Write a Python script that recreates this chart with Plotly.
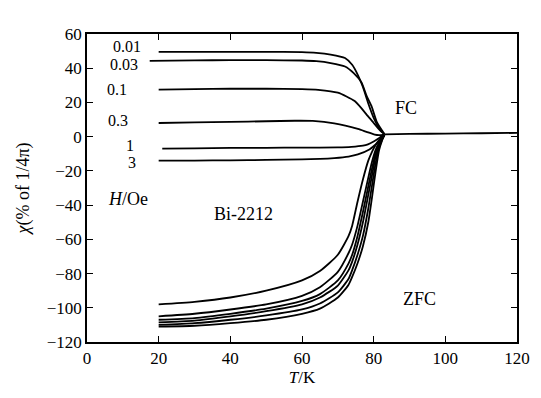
import plotly.graph_objects as go

# FC curves (below Tc), field labels in Oe
fc_labels = ["0.01", "0.03", "0.1", "0.3", "1", "3"]
fc_T = [
    [20, 30, 40, 50, 60, 64, 68, 72, 74, 75.6, 77, 78.4, 80, 81.2, 82.2, 83],
    [17.5, 30, 40, 50, 60, 64, 68, 72, 74.5, 76.6, 78, 79.4, 80.8, 82.2, 83],
    [20, 30, 40, 50, 60, 64.5, 70, 74.7, 78.4, 80, 81.2, 82.2, 83],
    [20, 30, 40, 50, 58, 63, 69, 75.6, 78, 80.3, 81.5, 83],
    [21, 30, 40, 50, 60, 70, 73.8, 77, 78.4, 80, 81.2, 82.2, 83],
    [20, 30, 40, 50, 60, 65, 69, 73, 75.6, 78.8, 80.3, 81.2, 82.2, 83],
]
fc_chi = [
    [49.5, 49.6, 49.6, 49.6, 49.4, 49.0, 48.0, 46.0, 42.0, 36.0, 29.0, 20.0, 11.0, 6.0, 3.0, 1.5],
    [44.3, 44.6, 44.7, 44.7, 44.5, 44.1, 43.0, 41.0, 37.0, 31.7, 24.0, 17.8, 9.0, 4.0, 1.5],
    [27.5, 27.8, 28, 28, 27.8, 27.4, 25.7, 20.8, 12, 8, 5, 2.8, 1.5],
    [8.0, 8.3, 8.6, 9.0, 9.3, 9.2, 7.8, 4.5, 2.8, 1.2, 0.9, 1.2],
    [-7.0, -6.8, -6.6, -6.5, -6.4, -6.3, -6.0, -5.3, -4.5, -2.8, -1.2, 0.2, 1.2],
    [-14.0, -14.0, -13.8, -13.6, -13.3, -13.0, -12.5, -11.6, -10.4, -7.5, -5.0, -3.3, -1.0, 1.0],
]

# ZFC curves
zfc_T = [20, 30, 40, 50, 60, 65, 70, 73, 74, 75.5, 77, 78.5, 79.5, 80.5, 81.5, 82.3, 83]
zfc_chi = [
    [-98, -96.5, -94, -90, -84, -78.5, -69, -58, -52, -38, -25, -14, -9, -5, -2, -0.3, 1],
    [-105, -103.5, -101, -98, -93, -88, -79, -68, -63, -52, -38, -24, -15, -8, -3.5, -1, 1],
    [-107, -106, -103.5, -100.5, -96, -92, -84, -74, -69, -58, -44, -29, -19, -10, -4.5, -1.3, 1],
    [-108.5, -107.5, -105, -102, -98, -94, -87, -78, -73, -63, -50, -34, -23, -12, -5.5, -1.6, 1],
    [-110, -109, -107, -104.5, -101, -97.5, -91, -83, -78, -69, -58, -42, -29, -16, -6.5, -2, 1],
    [-111, -110.5, -109, -107, -103.5, -100.5, -94, -86.5, -82, -74, -64, -50, -36, -21, -8, -2.5, 1],
]

# Normal state above Tc (all curves merge)
above_T = [83, 90, 100, 110, 120]
above_chi = [1.3, 1.6, 1.8, 2.0, 2.2]

x_ticks = [0, 20, 40, 60, 80, 100, 120]
y_ticks = [60, 40, 20, 0, -20, -40, -60, -80, -100, -120]

FONT = "Liberation Serif"
line = dict(color="black", width=1.8, shape="spline", smoothing=0.6)

fig = go.Figure()
for T, c in zip(fc_T, fc_chi):
    fig.add_trace(go.Scatter(x=T, y=c, mode="lines", line=line, showlegend=False))
for c in zfc_chi:
    fig.add_trace(go.Scatter(x=zfc_T, y=c, mode="lines", line=line, showlegend=False))
fig.add_trace(go.Scatter(x=above_T, y=above_chi, mode="lines", line=line, showlegend=False))

# field labels placed left of each FC curve
label_pos = [(11.2, 52.5), (10.4, 42), (8.4, 27.6), (8.7, 9.4), (12, -5.3), (12.6, -15.3)]
for txt, (lx, ly) in zip(fc_labels, label_pos):
    fig.add_annotation(x=lx, y=ly, text=txt, showarrow=False,
                       font=dict(family=FONT, size=16, color="black"))

annots = [
    (11.5, -36.5, "<i>H</i>/Oe"),
    (43.7, -45, "Bi-2212"),
    (88.9, 16.5, "FC"),
    (92.8, -94.7, "ZFC"),
]
for ax_, ay_, t in annots:
    fig.add_annotation(x=ax_, y=ay_, text=t, showarrow=False,
                       font=dict(family=FONT, size=18, color="black"))

axis_common = dict(
    showline=True, linecolor="black", linewidth=1.5, mirror="ticks",
    ticks="inside", ticklen=6, tickwidth=1.3, tickcolor="black",
    showgrid=False, zeroline=False,
    tickfont=dict(family=FONT, size=17, color="black"),
)

fig.update_xaxes(range=[0, 120], tickvals=x_ticks, ticktext=[str(v) for v in x_ticks],
                 title=dict(text="<i>T</i>/K", font=dict(family=FONT, size=17, color="black"),
                            standoff=2),
                 **axis_common)
fig.update_yaxes(range=[-120, 60], tickvals=y_ticks,
                 ticktext=[str(v).replace("-", "\u2212") for v in y_ticks],
                 title=dict(text="<i>χ</i>(% of 1/4π)",
                            font=dict(family=FONT, size=18, color="black"), standoff=12),
                 **axis_common)

fig.update_layout(
    width=533, height=390,
    margin=dict(l=79, r=24, t=26, b=56),
    paper_bgcolor="white", plot_bgcolor="white",
    showlegend=False,
)

fig.write_html("out.html")
